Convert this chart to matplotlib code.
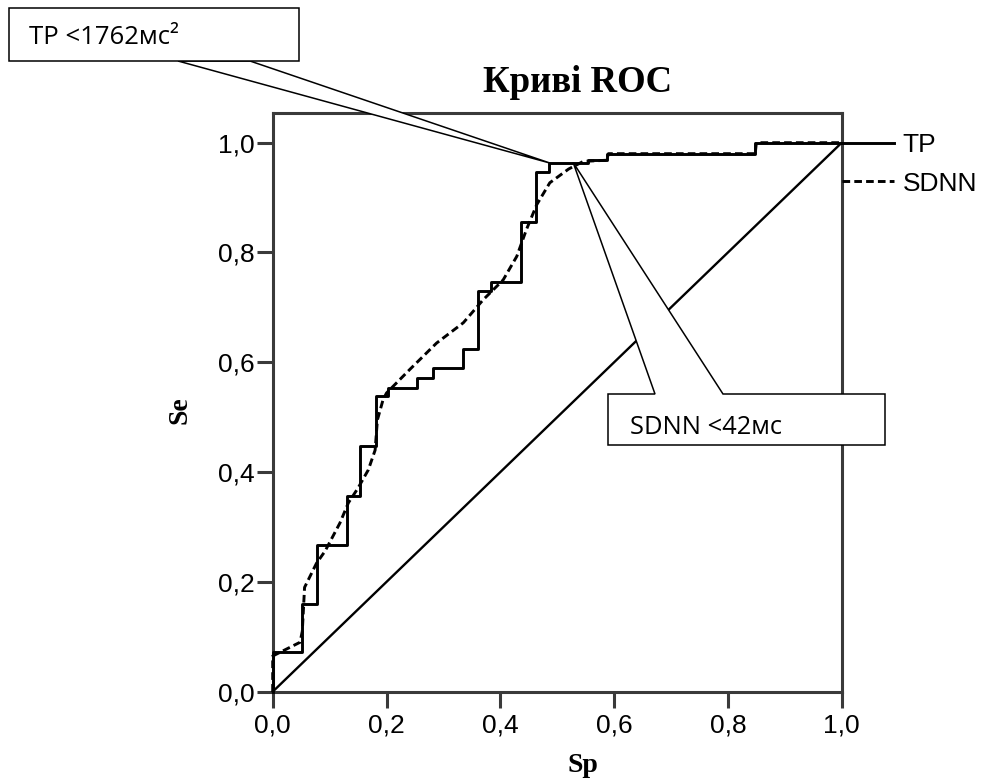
import matplotlib
matplotlib.use("Agg")
import matplotlib.pyplot as plt
from matplotlib.patches import Polygon, Rectangle
from matplotlib.lines import Line2D

plt.rcParams['lines.scale_dashes'] = False

# ---------------- data ----------------
tp_sp = [0.0, 0.0, 0.052, 0.077, 0.130, 0.153, 0.1815, 0.203, 0.253, 0.282,
         0.334, 0.360, 0.383, 0.436, 0.462, 0.486, 0.555, 0.587, 0.848, 1.0]
tp_se = [0.0, 0.073, 0.160, 0.268, 0.356, 0.447, 0.538, 0.553, 0.571, 0.590,
         0.625, 0.729, 0.746, 0.855, 0.946, 0.963, 0.968, 0.980, 1.0, 1.0]

sdnn_sp = [0.0, 0.0, 0.048, 0.052, 0.056, 0.077, 0.092, 0.118, 0.133, 0.150,
           0.168, 0.180, 0.184, 0.194, 0.200, 0.241, 0.288, 0.335, 0.370,
           0.405, 0.429, 0.446, 0.464, 0.487, 0.520, 0.546, 0.587, 0.590,
           0.848, 0.850, 1.0]
sdnn_se = [0.0, 0.065, 0.090, 0.110, 0.190, 0.234, 0.256, 0.307, 0.344, 0.371,
           0.404, 0.440, 0.495, 0.532, 0.544, 0.587, 0.635, 0.672, 0.714,
           0.750, 0.793, 0.842, 0.887, 0.927, 0.952, 0.966, 0.968, 0.980,
           0.980, 1.0, 1.0]

ref_line = [0.0, 1.0]

tick_vals = [0.0, 0.2, 0.4, 0.6, 0.8, 1.0]
tick_labels = ["0,0", "0,2", "0,4", "0,6", "0,8", "1,0"]

title_text = "Криві ROC"
xlabel_text = "Sp"
ylabel_text = "Se"
series_names = ["TP", "SDNN"]

tp_note = "TP <1762мс²"
sdnn_note = "SDNN <42мс"
tp_tip = (0.487, 0.963)
sdnn_tip = (0.528, 0.964)

# ---------------- figure ----------------
W, H = 982, 778
fig = plt.figure(figsize=(W / 100, H / 100), dpi=100)
fig.patch.set_facecolor("white")

def fx(px):
    return px / W

def fy(py):
    return 1 - py / H

ax = fig.add_axes([fx(272.7), fy(691.7), (841.7 - 272.7) / W, (691.7 - 112.5) / H])
ax.set_xlim(0, 1)
ax.set_ylim(0, 1.055)

spine_col = "#3a3a3a"
for s in ax.spines.values():
    s.set_color(spine_col)
    s.set_linewidth(2.2)

sans = ["Liberation Sans", "DejaVu Sans"]
serif = ["Liberation Serif", "DejaVu Serif"]

ax.set_xticks(tick_vals)
ax.set_xticklabels(tick_labels, family=sans, fontsize=19)
ax.set_yticks(tick_vals)
ax.set_yticklabels(tick_labels, family=sans, fontsize=19)
ax.tick_params(axis="both", direction="out", length=11.5, width=2.2, color=spine_col)
ax.tick_params(axis="x", pad=4)
ax.tick_params(axis="y", pad=1.5)

# curves
ax.plot(ref_line, ref_line, color="black", lw=1.7, clip_on=False, zorder=2)
ax.plot(sdnn_sp, sdnn_se, color="black", lw=2.1, linestyle=(0, (5.5, 3)),
        clip_on=False, zorder=3, label=series_names[1])
ax.plot(tp_sp, tp_se, color="black", lw=2.1, drawstyle="steps-post",
        clip_on=False, zorder=4, label=series_names[0])

h = [Line2D([], [], color="black", lw=2.1),
     Line2D([], [], color="black", lw=2.1, linestyle=(0, (5.5, 3)))]
leg = ax.legend(h, series_names, loc="upper left", bbox_to_anchor=(1.0, 0.965),
                frameon=False, borderpad=0, borderaxespad=0, handlelength=2.0,
                handletextpad=0.3, labelspacing=0.56,
                prop={"family": sans, "size": 19})

# title and labels
fig.text(fx(578), fy(82), title_text, family=serif, fontsize=26.5,
         fontweight="bold", ha="center", va="center")
ax.set_xlabel(xlabel_text, family=serif, fontsize=20, fontweight="bold", va="center")
ax.xaxis.set_label_coords((583 - 272.7) / 569, (691.7 - 765) / 579.2)
ax.set_ylabel(ylabel_text, family=serif, fontsize=20, fontweight="bold",
              va="center", ha="center")
ax.yaxis.set_label_coords((180 - 272.7) / 569, (691.7 - 410) / 579.2)

fig.canvas.draw()

def data_to_fig(pt):
    d = ax.transData.transform(pt)
    return tuple(fig.transFigure.inverted().transform(d))

tip1 = data_to_fig(tp_tip)
tip2 = data_to_fig(sdnn_tip)

note_font = ["Open Sans", "DejaVu Sans"]

# callout 1 (TP)
wedge1 = Polygon([(fx(178), fy(61)), tip1, (fx(250), fy(61))], closed=True,
                 facecolor="white", edgecolor="black", lw=1.1,
                 transform=fig.transFigure, zorder=10)
fig.add_artist(wedge1)
box1 = Rectangle((fx(9), fy(61)), fx(299) - fx(9), fy(8) - fy(61),
                 facecolor="white", edgecolor="black", lw=1.1,
                 transform=fig.transFigure, zorder=11)
fig.add_artist(box1)
fig.text(fx(29), fy(43.5), tp_note, family=note_font, fontsize=18.5,
         ha="left", va="baseline", zorder=12)

# callout 2 (SDNN)
poly2 = Polygon([(fx(608), fy(445)), (fx(608), fy(394)), (fx(655), fy(394)), tip2,
                 (fx(723), fy(394)), (fx(885), fy(394)), (fx(885), fy(445))],
                closed=True, facecolor="white", edgecolor="black", lw=1.1,
                transform=fig.transFigure, zorder=10)
fig.add_artist(poly2)
fig.text(fx(630), fy(433.5), sdnn_note, family=note_font, fontsize=18.4,
         ha="left", va="baseline", zorder=12)

fig.savefig("out.png", dpi=100, facecolor="white")
